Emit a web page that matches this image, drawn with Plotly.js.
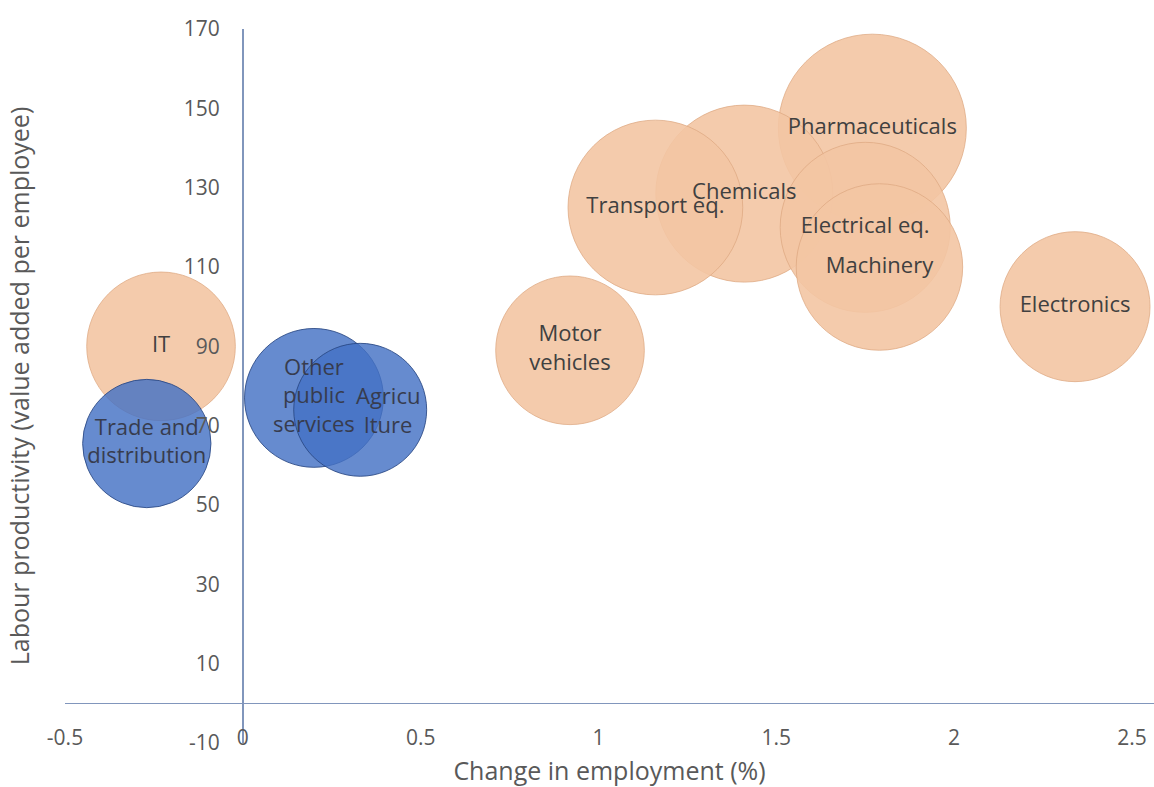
<!DOCTYPE html>
<html>
<head>
<meta charset="utf-8">
<script src="https://cdn.plot.ly/plotly-3.0.1.min.js"></script>
<style>html,body{margin:0;padding:0;background:#fff;}#chart{width:1154px;height:787px;}</style>
</head>
<body>
<div id="chart"></div>
<script>
// Manufacturing sectors (orange bubbles)
const mfgNames = ["Pharmaceuticals", "Chemicals", "Transport eq.", "Electrical eq.", "Machinery", "Electronics", "Motor<br>vehicles", "IT"];
const mfgEmploymentChange = [1.77, 1.41, 1.16, 1.75, 1.79, 2.34, 0.92, -0.23];
const mfgProductivity = [145, 128.5, 125, 120, 110, 100, 89, 90];
const mfgBubbleSize = [88, 78, 76, 72, 69, 56, 55, 55];

// Service / other sectors (blue bubbles)
const svcNames = ["Trade and<br>distribution", "Other<br>public<br>services", "Agricu<br>lture"];
const svcEmploymentChange = [-0.27, 0.20, 0.33];
const svcProductivity = [65.5, 77, 74];
const svcBubbleSize = [41, 48, 44];

const xTickVals = [-0.5, 0, 0.5, 1, 1.5, 2, 2.5];
const xTickText = ["-0.5", "0", "0.5", "1", "1.5", "2", "2.5"];
const yTickVals = [-10, 10, 30, 50, 70, 90, 110, 130, 150, 170];
const yTickText = ["-10", "10", "30", "50", "70", "90", "110", "130", "150", "170"];

const maxSize = Math.max(...mfgBubbleSize, ...svcBubbleSize);
const maxDiameterPx = 188;
const sizeref = 2 * maxSize / (maxDiameterPx * maxDiameterPx);

const FONT = "Open Sans, Noto Sans, Liberation Sans, sans-serif";

// The data label of the last service bubble sits to the right of its centre in the original
const svcInTrace = svcNames.map((t, i) => i === 2 ? "" : t);

const traces = [
  {
    type: "scatter", mode: "markers+text",
    x: mfgEmploymentChange, y: mfgProductivity, text: mfgNames,
    textposition: "middle center",
    textfont: {family: FONT, size: 22, color: "#404040"},
    marker: {
      size: mfgBubbleSize, sizemode: "area", sizeref: sizeref, opacity: 1,
      color: "rgba(243,197,163,0.9)",
      line: {color: "rgba(222,168,130,0.75)", width: 1}
    },
    hoverinfo: "none", cliponaxis: false
  },
  {
    type: "scatter", mode: "markers+text",
    x: svcEmploymentChange, y: svcProductivity, text: svcInTrace,
    textposition: "middle center",
    textfont: {family: FONT, size: 22, color: "#373c4e"},
    marker: {
      size: svcBubbleSize, sizemode: "area", sizeref: sizeref, opacity: 1,
      color: "rgba(68,114,196,0.82)",
      line: {color: "rgba(40,70,130,0.85)", width: 1}
    },
    hoverinfo: "none", cliponaxis: false
  }
];

const axisLineColor = "#8196BC";

const layout = {
  width: 1154, height: 787,
  paper_bgcolor: "#ffffff", plot_bgcolor: "#ffffff",
  showlegend: false,
  margin: {l: 65, r: 0, t: 29, b: 44},
  font: {family: FONT, color: "#595959"},
  xaxis: {
    range: [-0.5, 2.562],
    tickvals: xTickVals, ticktext: xTickText,
    tickfont: {family: FONT, size: 21, color: "#595959"},
    showgrid: false, showline: false, ticks: "",
    zeroline: true, zerolinecolor: axisLineColor, zerolinewidth: 1.5,
    anchor: "free", position: 0.028,
    title: {text: "Change in employment (%)", font: {family: FONT, size: 25, color: "#595959"}, standoff: 12}
  },
  yaxis: {
    range: [-10, 170],
    tickvals: yTickVals, ticktext: yTickText,
    tickfont: {family: FONT, size: 21, color: "#595959"},
    showgrid: false, showline: false, ticks: "",
    zeroline: true, zerolinecolor: axisLineColor, zerolinewidth: 1.5,
    anchor: "free", position: 0.5 / 3.062,
    ticklabelstandoff: 23,
    title: {text: "Labour productivity (value added per employee)", font: {family: FONT, size: 25, color: "#595959"}, standoff: 146}
  },
  annotations: [{
    x: svcEmploymentChange[2], y: svcProductivity[2], xref: "x", yref: "y",
    text: svcNames[2], showarrow: false, xshift: 28,
    font: {family: FONT, size: 22, color: "#373c4e"}
  }]
};

Plotly.newPlot("chart", traces, layout, {staticPlot: true, displayModeBar: false});
</script>
</body>
</html>
